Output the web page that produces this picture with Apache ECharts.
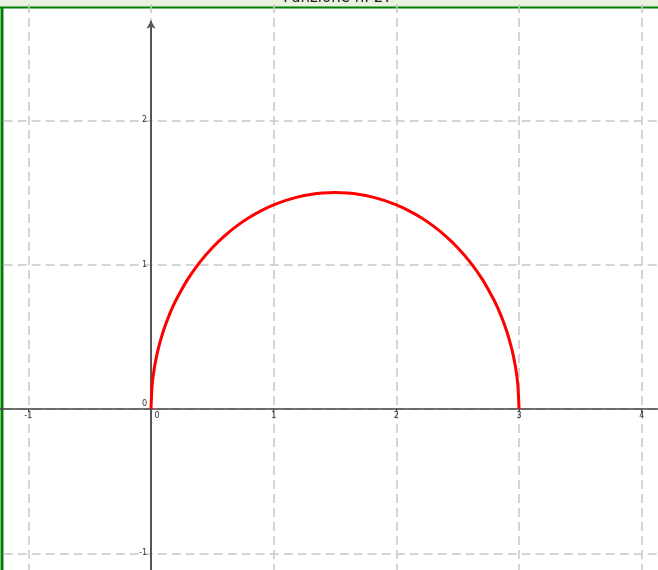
<!DOCTYPE html>
<html>
<head>
<meta charset="utf-8">
<script src="https://cdn.jsdelivr.net/npm/echarts@6/dist/echarts.min.js"></script>
<style>
  html, body { margin: 0; padding: 0; background: #fff; }
  #chart { width: 658px; height: 570px; }
</style>
</head>
<body>
<div id="chart"></div>
<script>
// curve points (x, y)
var curveX = [0, 0.01, 0.03, 0.06, 0.1, 0.15, 0.2, 0.3, 0.4, 0.5, 0.6, 0.7, 0.8, 0.9, 1.0, 1.1, 1.2, 1.3, 1.4, 1.5,
              1.6, 1.7, 1.8, 1.9, 2.0, 2.1, 2.2, 2.3, 2.4, 2.5, 2.6, 2.7, 2.8, 2.85, 2.9, 2.94, 2.97, 2.99, 3];
var curveY = [0, 0.173, 0.298, 0.420, 0.539, 0.654, 0.748, 0.900, 1.020, 1.118, 1.200, 1.269, 1.327, 1.375, 1.414, 1.446, 1.470, 1.487, 1.497, 1.500,
              1.497, 1.487, 1.470, 1.446, 1.414, 1.375, 1.327, 1.269, 1.200, 1.118, 1.020, 0.900, 0.748, 0.654, 0.539, 0.420, 0.298, 0.173, 0];
var titleText = 'Funzione n. 27';
var yAxisTop = 2.69;

var points = curveX.map(function (x, i) { return [x, curveY[i]]; });

var chart = echarts.init(document.getElementById('chart'));

// grid spans x -2..5 and y -2..3, partly off the canvas, so the unit steps match;
// axes are pulled in with a negative offset so they cross at the origin
var gridLeft = -94.33, gridTop = -23.9, gridW = 858.67, gridH = 721.5;
var originX = 151, originY = 409;

chart.setOption({
  backgroundColor: '#fff',
  animation: false,
  title: {
    text: titleText,
    left: 333,
    top: -14,
    textAlign: 'center',
    textStyle: { fontFamily: 'DejaVu Sans', fontSize: 15, fontWeight: 'normal', color: '#222' }
  },
  graphic: [
    { type: 'rect', z: -1, shape: { x: 0, y: 0, width: 658, height: 7 }, style: { fill: '#e9f1de' } },
    { type: 'line', shape: { x1: 0, y1: 7.5, x2: 658, y2: 7.5 }, style: { stroke: '#008000', lineWidth: 2 } },
    { type: 'line', shape: { x1: 2, y1: 7, x2: 2, y2: 570 }, style: { stroke: '#008000', lineWidth: 3 } }
  ],
  grid: {
    left: gridLeft, top: gridTop, width: gridW, height: gridH,
    outerBoundsMode: 'none', containLabel: false
  },
  xAxis: {
    type: 'value', min: -2, max: 5, interval: 1,
    offset: -(gridTop + gridH - originY),
    axisLine: { show: true, onZero: false, lineStyle: { color: '#444', width: 1.5 } },
    axisTick: { show: true, length: 3, lineStyle: { color: '#444' } },
    axisLabel: {
      margin: 3, fontSize: 8, color: '#333', fontFamily: 'DejaVu Sans',
      formatter: function (v) { return v === 0 ? '{z|0}' : String(v); },
      rich: { z: { fontSize: 8, color: '#333', fontFamily: 'DejaVu Sans', padding: [0, 0, 0, 12] } }
    },
    splitLine: { show: true, lineStyle: { color: '#c8c8c8', width: 1.5, type: [9, 5] } }
  },
  yAxis: {
    type: 'value', min: -2, max: 3, interval: 1,
    offset: -(originX - gridLeft),
    axisLine: { show: false, onZero: false },
    axisTick: { show: false },
    axisLabel: {
      margin: 4, fontSize: 8, color: '#333', fontFamily: 'DejaVu Sans',
      formatter: function (v) { return v === 0 ? '{z|0}' : String(v); },
      rich: { z: { fontSize: 8, color: '#333', fontFamily: 'DejaVu Sans', padding: [0, 0, 10, 0] } }
    },
    splitLine: { show: true, lineStyle: { color: '#c8c8c8', width: 1.5, type: [9, 5] } }
  },
  series: [{
    type: 'line',
    data: points,
    showSymbol: false,
    smooth: 0.3,
    lineStyle: { color: '#ff0000', width: 3 },
    z: 5,
    markLine: {
      silent: true,
      animation: false,
      label: { show: false },
      symbol: ['none', 'arrow'],
      symbolSize: [7, 8],
      lineStyle: { color: '#555', width: 2, type: 'solid' },
      emphasis: { disabled: true },
      data: [[{ coord: [0, -2] }, { coord: [0, yAxisTop] }]]
    }
  }]
});
</script>
</body>
</html>
